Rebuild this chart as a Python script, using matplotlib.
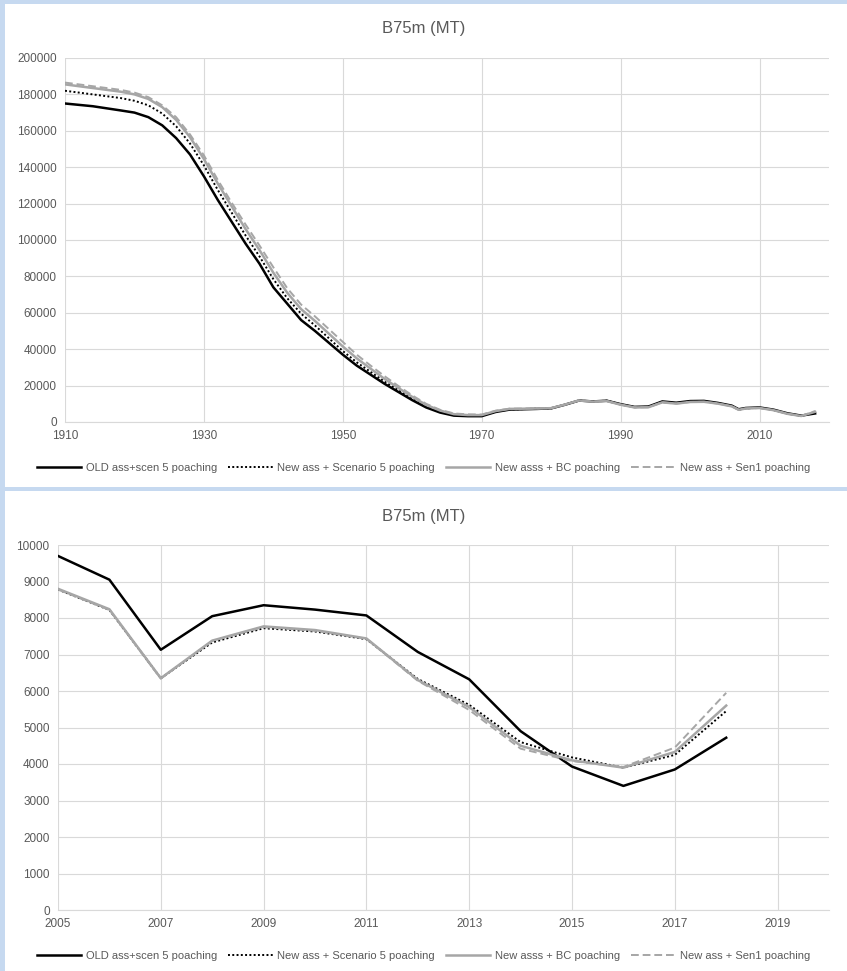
import matplotlib
matplotlib.use("Agg")
import matplotlib.pyplot as plt
from matplotlib.patches import Rectangle

plt.rcParams['font.family'] = ['Liberation Sans', 'DejaVu Sans']

labels = ["OLD ass+scen 5 poaching", "New ass + Scenario 5 poaching",
          "New asss + BC poaching", "New ass + Sen1 poaching"]

years_long = [1910, 1914, 1918, 1920] + list(range(1922, 2007, 2)) + [2007] + list(range(2008, 2019, 2))
old_long = [175000,173500,171200,170000,167500,163000,156000,147000,135000,122000,110000,98000,87000,74000,65000,56000,50000,43500,37000,31000,26000,21000,16500,12000,8000,5200,3500,3200,3200,5500,6800,7000,7200,7500,9500,11800,11300,11700,9800,8300,8500,11300,10600,11500,11600,10500,9000,7000,7700,8000,6800,4800,3500,4700]
s5_long = [182000,180000,178000,176500,174000,169500,162500,153000,141000,127500,115000,102500,91000,78500,68000,59500,53000,46000,39000,32800,27500,22200,17500,12800,8600,5700,3900,3500,3500,5700,6900,7100,7300,7500,9500,11800,11300,11700,9700,8200,8300,11000,10300,11200,11300,10300,8800,6800,7500,7800,6600,4700,3400,5400]
bc_long = [185500,183500,181500,180000,177500,173000,166000,156500,144500,131000,118500,106000,94500,82000,71000,62000,55500,48500,41500,35000,29300,23700,18700,13800,9400,6300,4300,3800,3800,6000,7200,7300,7400,7600,9600,11800,11200,11500,9500,8000,8100,10800,10100,11000,11100,10100,8600,6700,7400,7700,6500,4500,3300,5600]
sen1_long = [186500,184500,182500,181000,178500,174000,167500,158000,146500,133000,120500,108500,97000,85000,73500,64500,58000,51000,44000,37000,31000,25200,19800,14600,10000,6700,4700,4200,4100,6200,7300,7400,7500,7700,9600,11900,11200,11500,9500,8000,8100,10800,10100,11000,11100,10100,8600,6700,7400,7700,6500,4500,3300,6000]

years_short = list(range(2005, 2019))
old_short = [9700, 9050, 7130, 8050, 8350, 8230, 8070, 7070, 6320, 4900, 3930, 3400, 3850, 4720]
s5_short = [8780, 8220, 6350, 7330, 7720, 7630, 7420, 6330, 5620, 4600, 4180, 3900, 4250, 5450]
bc_short = [8800, 8240, 6350, 7380, 7770, 7670, 7440, 6300, 5560, 4500, 4100, 3900, 4330, 5600]
sen1_short = [8780, 8220, 6340, 7370, 7750, 7650, 7430, 6280, 5480, 4420, 4080, 3920, 4450, 5950]

styles = [dict(color='black', lw=1.8, ls='-'),
          dict(color='black', lw=1.4, ls=(0, (1, 1.2))),
          dict(color='#a6a6a6', lw=1.8, ls='-'),
          dict(color='#a6a6a6', lw=1.4, ls=(0, (4, 2)))]

W, H = 847, 971
fig = plt.figure(figsize=(W / 100, H / 100), dpi=100, facecolor='#c6d9f0')
fig.patches.append(Rectangle((5 / W, 1 - 487 / H), 1, 483 / H, transform=fig.transFigure,
                             facecolor='white', edgecolor='none', zorder=-10))
fig.patches.append(Rectangle((5 / W, 0), 1, 1 - 491 / H, transform=fig.transFigure,
                             facecolor='white', edgecolor='none', zorder=-10))


def style_ax(ax):
    for s in ['top', 'right', 'left']:
        ax.spines[s].set_visible(False)
    ax.spines['bottom'].set_color('#d9d9d9')
    ax.grid(True, color='#d9d9d9', lw=0.8)
    ax.set_axisbelow(True)
    ax.tick_params(length=0, labelsize=8.5, colors='#595959', pad=6)
    ax.set_facecolor('none')


leg_kw = dict(loc='center', ncol=4, frameon=False, fontsize=8, labelcolor='#595959',
              handlelength=4, columnspacing=1.0, handletextpad=0.4)

ax1 = fig.add_axes([65 / W, 1 - 422 / H, 764 / W, 364 / H])
for ys, st, lb in zip([old_long, s5_long, bc_long, sen1_long], styles, labels):
    ax1.plot(years_long, ys, label=lb, **st)
ax1.set_xlim(1910, 2020)
ax1.set_ylim(0, 200000)
ax1.set_xticks(range(1910, 2020, 20))
ax1.set_yticks(range(0, 200001, 20000))
style_ax(ax1)
fig.text(0.5, 1 - 29 / H, "B75m (MT)", ha='center', va='center', fontsize=12, color='#595959')
fig.legend(*ax1.get_legend_handles_labels(), bbox_to_anchor=(0.5, 1 - 468 / H), **leg_kw)

ax2 = fig.add_axes([58 / W, 1 - 910 / H, 771 / W, 365 / H])
for ys, st, lb in zip([old_short, s5_short, bc_short, sen1_short], styles, labels):
    ax2.plot(years_short, ys, label=lb, **st)
ax2.set_xlim(2005, 2020)
ax2.set_ylim(0, 10000)
ax2.set_xticks(range(2005, 2020, 2))
ax2.set_yticks(range(0, 10001, 1000))
style_ax(ax2)
fig.text(0.5, 1 - 516 / H, "B75m (MT)", ha='center', va='center', fontsize=12, color='#595959')
fig.legend(*ax2.get_legend_handles_labels(), bbox_to_anchor=(0.5, 1 - 956 / H), **leg_kw)

fig.savefig("out.png", dpi=100, facecolor=fig.get_facecolor())
